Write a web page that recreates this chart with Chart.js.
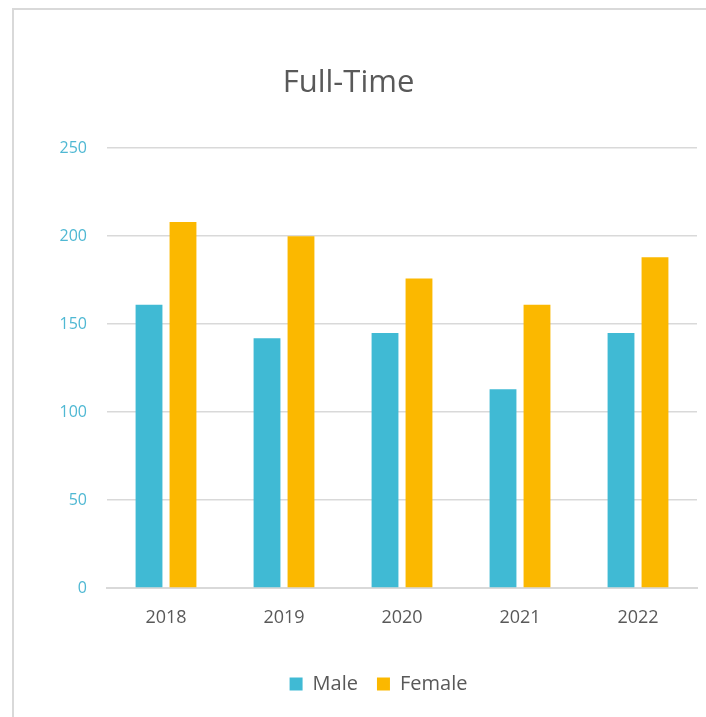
<!DOCTYPE html>
<html>
<head>
<meta charset="utf-8">
<script src="https://cdn.jsdelivr.net/npm/chart.js@4.4.1/dist/chart.umd.min.js"></script>
<style>
  html, body { margin: 0; padding: 0; background: #fff; overflow: hidden; }
  #wrap { position: relative; width: 706px; height: 717px; overflow: hidden; }
  #card { position: absolute; left: 12px; top: 8px; width: 720px; height: 740px;
          border-top: 2px solid #d9d9d9; border-left: 2px solid #d9d9d9;
          box-sizing: border-box; pointer-events: none; }
  canvas { position: absolute; left: 0; top: 0; }
</style>
</head>
<body>
<div id="wrap">
  <canvas id="myChart" width="706" height="717"></canvas>
  <div id="card"></div>
</div>
<script>
// datos del gráfico
const years = ['2018', '2019', '2020', '2021', '2022'];
const maleValues = [161, 142, 145, 113, 145];
const femaleValues = [208, 200, 176, 161, 188];
const yTicks = [0, 50, 100, 150, 200, 250];

const fontFamily = "'Open Sans', 'Noto Sans', sans-serif";

// la leyenda del original está desplazada hacia la derecha
const shiftLegend = {
    id: 'shiftLegend',
    afterLayout(chart) {
        chart.legend.left += 30;
        chart.legend.right += 30;
    }
};

const data = {
    labels: years,
    datasets: [
        {
            label: 'Male',
            data: maleValues,
            backgroundColor: '#40BAD4',
            categoryPercentage: 0.576,
            barPercentage: 0.79
        },
        {
            label: 'Female',
            data: femaleValues,
            backgroundColor: '#FBB800',
            categoryPercentage: 0.576,
            barPercentage: 0.79
        }
    ]
};

const config = {
    type: 'bar',
    data: data,
    plugins: [shiftLegend],
    options: {
        responsive: false,
        animation: false,
        layout: { padding: { left: 0, right: 9, top: 0, bottom: 13 } },
        plugins: {
            title: {
                display: true,
                text: 'Full-Time',
                color: '#595959',
                font: { family: fontFamily, size: 31, weight: 'normal' },
                padding: { top: 65, bottom: 46 }
            },
            legend: {
                position: 'bottom',
                labels: {
                    color: '#595959',
                    font: { family: fontFamily, size: 20 },
                    boxWidth: 13,
                    boxHeight: 13,
                    padding: 19
                }
            },
            tooltip: { enabled: false }
        },
        scales: {
            x: {
                grid: { display: false, drawTicks: false },
                border: { display: true, color: '#d9d9d9', width: 2 },
                ticks: {
                    color: '#595959',
                    font: { family: fontFamily, size: 18 },
                    padding: 19
                },
                afterFit: (scale) => { scale.height = 67; }
            },
            y: {
                min: yTicks[0],
                max: yTicks[yTicks.length - 1],
                afterBuildTicks: (scale) => { scale.ticks = yTicks.map(v => ({ value: v })); },
                grid: { color: '#d9d9d9', lineWidth: 1.5, drawTicks: false },
                border: { display: false },
                ticks: {
                    color: '#4FB8D3',
                    font: { family: fontFamily, size: 16 },
                    padding: 20
                },
                afterFit: (scale) => { scale.width = 107; }
            }
        }
    }
};

new Chart(document.getElementById('myChart'), config);
</script>
</body>
</html>
